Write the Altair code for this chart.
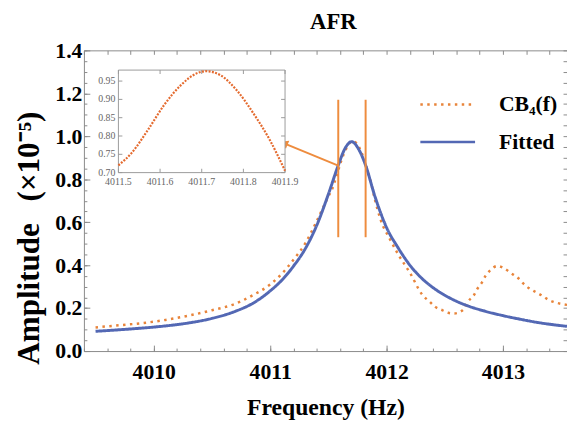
import altair as alt
import pandas as pd

# ---------------- data ----------------
series_names = ["CB\u2084(f)", "Fitted"]

cb4_freq = [4009.5, 4009.7, 4009.9, 4010.1, 4010.3, 4010.5, 4010.7, 4010.85, 4011.0,
            4011.1, 4011.2, 4011.3, 4011.4, 4011.5, 4011.532, 4011.571, 4011.61, 4011.65,
            4011.69, 4011.71, 4011.745, 4011.784, 4011.824, 4011.863, 4011.9, 4011.95,
            4012.03, 4012.1, 4012.2, 4012.31, 4012.37, 4012.42, 4012.48, 4012.53, 4012.58,
            4012.63, 4012.67, 4012.70, 4012.75, 4012.78, 4012.82, 4012.85, 4012.89, 4012.95,
            4013.01, 4013.07, 4013.13, 4013.17, 4013.22, 4013.28, 4013.34, 4013.39, 4013.46,
            4013.55]
cb4_amp = [0.11, 0.12, 0.13, 0.145, 0.165, 0.19, 0.22, 0.26, 0.31,
           0.36, 0.425, 0.50, 0.605, 0.72, 0.754, 0.817, 0.885, 0.939,
           0.972, 0.977, 0.966, 0.925, 0.862, 0.79, 0.705, 0.61,
           0.52, 0.45, 0.365, 0.26, 0.23, 0.205, 0.19, 0.178, 0.175,
           0.182, 0.20, 0.23, 0.26, 0.29, 0.32, 0.35, 0.376, 0.396,
           0.385, 0.362, 0.34, 0.317, 0.294, 0.275, 0.257, 0.239, 0.225,
           0.215]

fit_freq = [4009.5, 4009.7, 4009.9, 4010.1, 4010.3, 4010.5, 4010.7, 4010.85, 4011.0,
            4011.1, 4011.2, 4011.3, 4011.4, 4011.5, 4011.585, 4011.64, 4011.7, 4011.76,
            4011.82, 4011.9, 4012.0, 4012.1, 4012.2, 4012.3, 4012.4, 4012.5, 4012.6,
            4012.7, 4012.85, 4013.0, 4013.15, 4013.3, 4013.55]
fit_amp = [0.092, 0.099, 0.107, 0.117, 0.131, 0.152, 0.185, 0.222, 0.28,
           0.33, 0.395, 0.475, 0.585, 0.73, 0.865, 0.94, 0.975, 0.94,
           0.865, 0.72, 0.575, 0.48, 0.40, 0.34, 0.295, 0.26, 0.232,
           0.21, 0.185, 0.165, 0.148, 0.133, 0.115]

marker_freq = [4011.585, 4011.82]     # orange vertical markers
marker_amp = [0.53, 1.17]             # their lower / upper ends
arrow_freq = [4011.094, 4011.585]     # arrow tip, arrow tail
arrow_amp = [0.973, 0.863]

x_domain = [4009.4, 4013.55]
y_domain = [0.0, 1.4]
x_major = [4010, 4011, 4012, 4013]
x_minor = [round(4009.4 + 0.2 * i, 1) for i in range(21)]
y_major = [0.0, 0.2, 0.4, 0.6, 0.8, 1.0, 1.2, 1.4]
y_minor = [round(0.05 * i, 2) for i in range(29)]

inset_x_domain = [4011.5, 4011.9]
inset_y_domain = [0.70, 0.98]
inset_x_ticks = [4011.5, 4011.6, 4011.7, 4011.8, 4011.9]
inset_y_ticks = [0.70, 0.75, 0.80, 0.85, 0.90, 0.95]

# ---------------- styling ----------------
FONT = "Liberation Serif"
ORANGE = "#E8843A"
RULE_ORANGE = "#EE8C3E"
INSET_ORANGE = "#E46A2E"
BLUE = "#5368B4"
GRAY = "#8a8a8a"
W, H = 490, 305

cb4_df = pd.DataFrame({"f": cb4_freq, "amp": cb4_amp, "series": series_names[0]})
fit_df = pd.DataFrame({"f": fit_freq, "amp": fit_amp, "series": series_names[1]})
marker_df = pd.DataFrame({"f": marker_freq, "y0": marker_amp[0], "y1": marker_amp[1]})
arrow_df = pd.DataFrame({"x0": [arrow_freq[0]], "x1": [arrow_freq[1]],
                         "y0": [arrow_amp[0]], "y1": [arrow_amp[1]]})
frame_df = pd.DataFrame({"x0": [inset_x_domain[0]], "x1": [inset_x_domain[1]],
                         "y0": [inset_y_domain[0]], "y1": [inset_y_domain[1]]})
ix_df = pd.DataFrame({"v": inset_x_ticks, "y0": inset_y_domain[0], "y1": inset_y_domain[1]})
iy_df = pd.DataFrame({"v": inset_y_ticks, "x0": inset_x_domain[0], "x1": inset_x_domain[1]})

xs = alt.Scale(domain=x_domain, nice=False, zero=False)
ys = alt.Scale(domain=y_domain, nice=False, zero=False)


def tick_axis(orient, values, size, **kw):
    return alt.Axis(orient=orient, values=values, tickSize=size, offset=-size,
                    labels=False, domain=False, grid=False, title=None,
                    minExtent=0, maxExtent=size,
                    tickColor=GRAY, tickWidth=1, **kw)


color_scale = alt.Scale(domain=series_names, range=[ORANGE, BLUE])
dash_scale = alt.Scale(domain=series_names, range=[[2.5, 4.5], [1, 0]])
leg = alt.Legend(orient="none", legendX=349, legendY=35, title=None,
                 symbolType="M-1.5,0H1.5", symbolSize=1369, symbolStrokeWidth=2.5,
                 labelFont=FONT, labelFontSize=22, labelFontWeight="bold",
                 labelColor="black", labelOffset=32, padding=0, rowPadding=7)

x_label_axis = alt.Axis(orient="bottom", values=x_major, format="d", tickSize=6, offset=-6,
                        grid=False, domain=False, tickColor=GRAY,
                        labelFont=FONT, labelFontSize=22, labelFontWeight="bold",
                        labelColor="black", labelPadding=11,
                        title="Frequency (Hz)", titleFont=FONT, titleFontSize=24,
                        titleFontWeight="bold", titleColor="black", titlePadding=13)
y_label_axis = alt.Axis(orient="left", values=y_major, format=".1f", tickSize=6, offset=-6,
                        grid=False, domain=False, tickColor=GRAY,
                        labelFont=FONT, labelFontSize=22, labelFontWeight="bold",
                        labelColor="black", labelPadding=2,
                        title="Amplitude\u2002\u2009(\u00d710\u207b\u2075)", titleFont=FONT,
                        titleFontSize=31.5, titleFontWeight="bold", titleColor="black",
                        titleX=-52, titleY=190, titleBaseline="alphabetic")

cb4_line = alt.Chart(cb4_df).mark_line(strokeWidth=2.5, interpolate="monotone").encode(
    x=alt.X("f:Q", scale=xs, axis=tick_axis("bottom", x_minor, 3)),
    y=alt.Y("amp:Q", scale=ys, axis=tick_axis("left", y_minor, 3)),
    color=alt.Color("series:N", scale=color_scale, legend=leg),
    strokeDash=alt.StrokeDash("series:N", scale=dash_scale, legend=leg),
)
fit_line = alt.Chart(fit_df).mark_line(strokeWidth=3, interpolate="monotone").encode(
    x=alt.X("f:Q", scale=xs, axis=x_label_axis),
    y=alt.Y("amp:Q", scale=ys, axis=y_label_axis),
    color=alt.Color("series:N", scale=color_scale, legend=leg),
    strokeDash=alt.StrokeDash("series:N", scale=dash_scale, legend=leg),
)
markers = alt.Chart(marker_df).mark_rule(color=RULE_ORANGE, strokeWidth=2).encode(
    x=alt.X("f:Q", scale=xs, axis=tick_axis("top", x_minor, 4)),
    y=alt.Y("y0:Q", scale=ys, axis=tick_axis("right", y_minor, 4)),
    y2="y1:Q",
)
arrow = alt.Chart(arrow_df).mark_rule(color=RULE_ORANGE, strokeWidth=2).encode(
    x=alt.X("x0:Q", scale=xs, axis=None), x2="x1:Q",
    y=alt.Y("y0:Q", scale=ys, axis=None), y2="y1:Q",
)
head = alt.Chart(arrow_df).mark_point(shape="triangle-left", filled=True, size=80,
                                       angle=22.5, color=RULE_ORANGE, opacity=1,
                                       xOffset=3, yOffset=1.2).encode(
    x=alt.X("x0:Q", scale=xs, axis=None),
    y=alt.Y("y0:Q", scale=ys, axis=None),
)

main = alt.layer(cb4_line, fit_line, markers, arrow, head).resolve_axis(
    x="independent", y="independent")

# ---------------- inset ----------------
IN_L, IN_R, IN_T, IN_B = 35, 204, 20, 124
ixs = alt.Scale(domain=inset_x_domain, range=[IN_L, IN_R], nice=False, zero=False)
iys = alt.Scale(domain=inset_y_domain, range=[IN_B, IN_T], nice=False, zero=False)

inset_frame = alt.Chart(frame_df).mark_rect(fill="white", stroke="#9a9a9a", strokeWidth=1).encode(
    x=alt.X("x0:Q", scale=ixs, axis=None), x2="x1:Q",
    y=alt.Y("y0:Q", scale=iys, axis=None), y2="y1:Q",
)
tick_style = dict(color="#9a9a9a", thickness=1, size=4, opacity=1)
ix_bottom = alt.Chart(ix_df).mark_tick(orient="vertical", yOffset=-2, **tick_style).encode(
    x=alt.X("v:Q", scale=ixs, axis=None), y=alt.Y("y0:Q", scale=iys, axis=None))
ix_top = alt.Chart(ix_df).mark_tick(orient="vertical", yOffset=2, **tick_style).encode(
    x=alt.X("v:Q", scale=ixs, axis=None), y=alt.Y("y1:Q", scale=iys, axis=None))
iy_left = alt.Chart(iy_df).mark_tick(orient="horizontal", xOffset=2, **tick_style).encode(
    x=alt.X("x0:Q", scale=ixs, axis=None), y=alt.Y("v:Q", scale=iys, axis=None))
iy_right = alt.Chart(iy_df).mark_tick(orient="horizontal", xOffset=-2, **tick_style).encode(
    x=alt.X("x1:Q", scale=ixs, axis=None), y=alt.Y("v:Q", scale=iys, axis=None))
ix_labels = alt.Chart(ix_df).mark_text(font=FONT, fontSize=10, color="#666", baseline="top",
                                       dy=5).encode(
    x=alt.X("v:Q", scale=ixs, axis=None), y=alt.Y("y0:Q", scale=iys, axis=None),
    text=alt.Text("v:Q", format=".1f"))
iy_labels = alt.Chart(iy_df).mark_text(font=FONT, fontSize=10, color="#666", align="right",
                                       baseline="middle", dx=-3).encode(
    x=alt.X("x0:Q", scale=ixs, axis=None), y=alt.Y("v:Q", scale=iys, axis=None),
    text=alt.Text("v:Q", format=".2f"))
inset_line = alt.Chart(cb4_df).transform_filter(
    (alt.datum.f >= inset_x_domain[0]) & (alt.datum.f <= inset_x_domain[1])
).mark_line(color=INSET_ORANGE, strokeWidth=2.2, strokeDash=[2, 1.4], interpolate="monotone").encode(
    x=alt.X("f:Q", scale=ixs, axis=None),
    y=alt.Y("amp:Q", scale=iys, axis=None),
)
inset = alt.layer(inset_frame, ix_bottom, ix_top, iy_left, iy_right, ix_labels, iy_labels,
                  inset_line)

chart = alt.layer(main, inset).resolve_scale(x="independent", y="independent").properties(
    width=W, height=H,
    title=alt.TitleParams(text="AFR", font=FONT, fontSize=23, fontWeight="bold", color="black",
                          anchor="middle", frame="group", baseline="alphabetic", offset=-12,
                          dx=8),
    autosize=alt.AutoSizeParams(type="none"),
    padding={"left": 77, "top": 40, "right": 0, "bottom": 70},
    background="white",
).configure_view(stroke=GRAY, strokeWidth=1)

chart.save("out.html", embed_options={"renderer": "svg", "actions": False})
